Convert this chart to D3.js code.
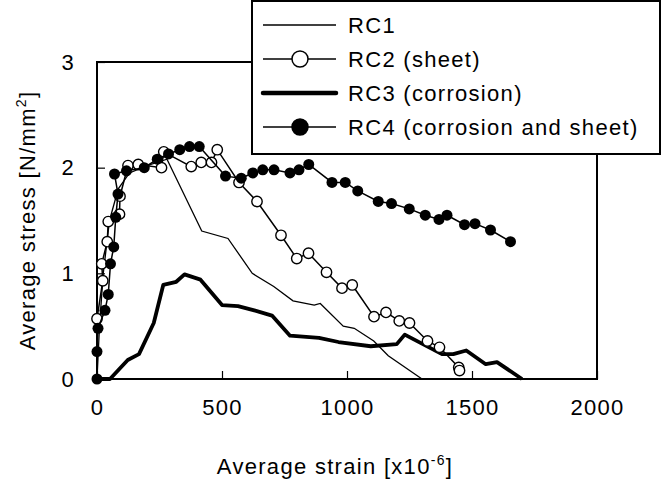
<!DOCTYPE html>
<meta charset="utf-8">
<style>
body {
  margin: 0;
  background: #fff;
}
text {
  font-family: "Liberation Sans", Arial, sans-serif;
  font-size: 22px;
  letter-spacing: 1.3px;
  fill: #000;
}
</style>
<body>
<svg id="chart" width="671" height="485"></svg>
<script src="https://cdn.jsdelivr.net/npm/d3@7"></script>
<script>

// strain [x10^-6], stress [N/mm2]
var rc1 = [[0,0],[10,0.5],[25,1.0],[50,1.5],[85,1.8],[130,1.95],[200,2.02],[280,2.08],
  [419,1.40],[524,1.33],[621,1.00],[707,0.875],[784,0.74],[869,0.70],[893,0.715],
  [985,0.50],[1029,0.48],[1107,0.36],[1165,0.22],[1300,0]];

var rc2 = [[0,0.57],[23,0.93],[19,1.09],[41,1.30],[45,1.49],[90,1.56],[92,1.73],[124,2.02],
  [165,2.03],[258,2.0],[267,2.15],[377,2.01],[417,2.05],[458,2.05],[481,2.17],[568,1.86],
  [640,1.68],[736,1.36],[799,1.14],[846,1.19],[918,1.01],[980,0.86],[1021,0.89],[1108,0.59],
  [1156,0.63],[1209,0.55],[1250,0.53],[1322,0.36],[1370,0.30],[1447,0.11],[1450,0.08]];

var rc3 = [[0,0],[52,0],[123,0.18],[168,0.235],[227,0.53],[265,0.89],[317,0.92],[350,0.99],
  [414,0.94],[500,0.70],[564,0.69],[629,0.65],[700,0.60],[772,0.41],[888,0.39],[966,0.35],
  [1095,0.31],[1199,0.33],[1231,0.42],[1380,0.235],[1425,0.235],[1477,0.27],[1555,0.14],
  [1600,0.16],[1700,0]];

var rc4 = [[0,0],[0,0.26],[4,0.48],[32,0.65],[45,0.80],[54,1.09],[67,1.25],[75,1.53],[84,1.75],
  [70,1.94],[118,1.97],[189,2.0],[241,2.08],[286,2.13],[331,2.17],[370,2.2],[409,2.2],
  [514,1.92],[577,1.90],[623,1.95],[663,1.98],[708,1.98],[772,1.95],[808,1.98],[847,2.03],
  [940,1.86],[993,1.86],[1043,1.78],[1125,1.68],[1178,1.66],[1249,1.61],[1313,1.55],
  [1368,1.51],[1400,1.55],[1470,1.46],[1512,1.47],[1574,1.41],[1654,1.30]];

var legendLabels = ["RC1", "RC2 (sheet)", "RC3 (corrosion)", "RC4 (corrosion and sheet)"];
var xTicks = [0, 500, 1000, 1500, 2000];
var yTicks = [0, 1, 2, 3];

var svg = d3.select("#chart"),
    margin = {top: 62, right: 74, bottom: 106, left: 97},
    width = svg.attr("width") - margin.left - margin.right,
    height = svg.attr("height") - margin.top - margin.bottom;

var x = d3.scaleLinear().domain([0, 2000]).range([0, width]),
    y = d3.scaleLinear().domain([0, 3]).range([height, 0]);

var line = d3.line()
    .x(function(d) { return x(d[0]); })
    .y(function(d) { return y(d[1]); });

var g = svg.append("g")
    .attr("transform", "translate(" + margin.left + "," + margin.top + ")");

// frame
g.append("rect")
    .attr("width", width)
    .attr("height", height)
    .attr("fill", "none")
    .attr("stroke", "#000")
    .attr("stroke-width", 2);

// ticks point inward
var xAxis = g.append("g")
    .attr("transform", "translate(0," + height + ")")
    .call(d3.axisBottom(x).tickValues(xTicks).tickFormat(d3.format("d"))
      .tickSizeInner(-8).tickSizeOuter(0).tickPadding(20));
var yAxis = g.append("g")
    .call(d3.axisLeft(y).tickValues(yTicks).tickFormat(d3.format("d"))
      .tickSizeInner(-8).tickSizeOuter(0).tickPadding(22));

[xAxis, yAxis].forEach(function(a) {
  a.select(".domain").remove();
  a.selectAll("line").attr("stroke", "#000").attr("stroke-width", 1.2);
  a.selectAll("text").attr("font-size", null).attr("font-family", null).attr("fill", "#000");
});

// series: RC1, RC3, RC2, RC4
g.append("path").datum(rc1).attr("d", line)
    .attr("fill", "none").attr("stroke", "#000").attr("stroke-width", 1.3);

g.append("path").datum(rc3).attr("d", line)
    .attr("fill", "none").attr("stroke", "#000").attr("stroke-width", 3.8)
    .attr("stroke-linejoin", "round");

g.append("path").datum(rc2).attr("d", line)
    .attr("fill", "none").attr("stroke", "#000").attr("stroke-width", 1.5);
g.selectAll(".rc2").data(rc2).enter().append("circle")
    .attr("class", "rc2")
    .attr("cx", function(d) { return x(d[0]); })
    .attr("cy", function(d) { return y(d[1]); })
    .attr("r", 5.2)
    .attr("fill", "#fff").attr("stroke", "#000").attr("stroke-width", 1.4);

g.append("path").datum(rc4).attr("d", line)
    .attr("fill", "none").attr("stroke", "#000").attr("stroke-width", 1.5);
g.selectAll(".rc4").data(rc4).enter().append("circle")
    .attr("class", "rc4")
    .attr("cx", function(d) { return x(d[0]); })
    .attr("cy", function(d) { return y(d[1]); })
    .attr("r", 5.5)
    .attr("fill", "#000");

// axis titles
var xt = svg.append("text")
    .attr("x", margin.left + width / 2 - 12)
    .attr("y", 474)
    .attr("text-anchor", "middle")
    .text("Average strain [x10");
xt.append("tspan").attr("dy", -9).style("font-size", "14px").text("-6");
xt.append("tspan").attr("dy", 9).text("]");

var yt = svg.append("text")
    .attr("transform", "translate(35," + (margin.top + height / 2) + ") rotate(-90)")
    .attr("text-anchor", "middle")
    .text("Average stress [N/mm");
yt.append("tspan").attr("dy", -9).style("font-size", "14px").text("2");
yt.append("tspan").attr("dy", 9).text("]");

// legend
var legend = svg.append("g").attr("transform", "translate(252,1)");
legend.append("rect")
    .attr("width", 408).attr("height", 153)
    .attr("fill", "#fff").attr("stroke", "#000").attr("stroke-width", 2);

var rows = legend.selectAll(".row").data(legendLabels).enter().append("g")
    .attr("class", "row")
    .attr("transform", function(d, i) { return "translate(0," + (24 + i * 34) + ")"; });

rows.append("line")
    .attr("x1", 11).attr("x2", 84)
    .attr("stroke", "#000")
    .attr("stroke-width", function(d, i) { return i == 2 ? 4.5 : 1.3; })
    .attr("stroke-linecap", function(d, i) { return i == 2 ? "round" : "butt"; });

rows.filter(function(d, i) { return i == 1 || i == 3; })
  .append("circle")
    .attr("cx", 48)
    .attr("r", 8)
    .attr("fill", function(d) { return d == legendLabels[1] ? "#fff" : "#000"; })
    .attr("stroke", "#000").attr("stroke-width", 1.5);

rows.append("text")
    .attr("x", 96)
    .attr("dy", "0.36em")
    .text(function(d) { return d; });

</script>
</body>
